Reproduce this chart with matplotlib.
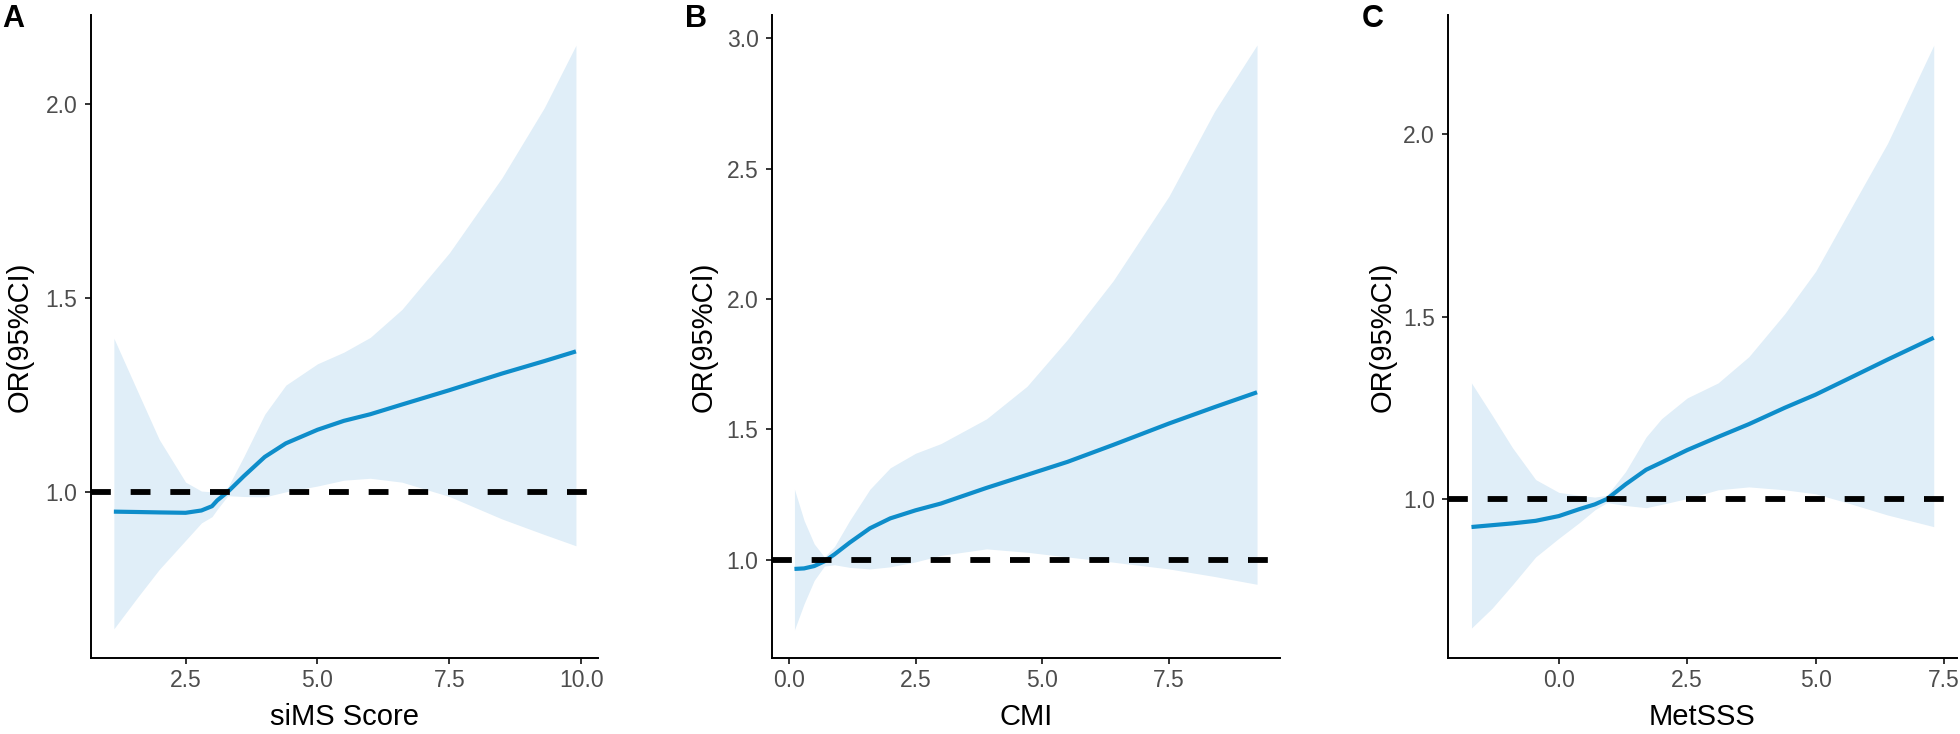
import matplotlib
matplotlib.use("Agg")
import matplotlib.pyplot as plt

plt.rcParams['font.family'] = ['Liberation Sans', 'DejaVu Sans']

# panel A - siMS Score
a_x = [1.14, 1.6, 2.0, 2.5, 2.8, 3.0, 3.1, 3.3, 3.6, 4.0, 4.4, 5.0, 5.5, 6.0, 6.6, 7.5, 8.5, 9.3, 9.9]
a_est = [0.949, 0.948, 0.947, 0.946, 0.952, 0.963, 0.978, 1.0, 1.04, 1.09, 1.125, 1.16, 1.183, 1.20, 1.225, 1.262, 1.305, 1.337, 1.362]
a_lo = [0.647, 0.73, 0.80, 0.875, 0.92, 0.936, 0.955, 0.99, 0.988, 0.987, 1.0, 1.015, 1.03, 1.035, 1.025, 0.988, 0.93, 0.89, 0.861]
a_hi = [1.396, 1.256, 1.135, 1.025, 1.002, 1.0, 1.0, 1.012, 1.09, 1.20, 1.275, 1.33, 1.36, 1.398, 1.47, 1.616, 1.81, 1.99, 2.151]

# panel B - CMI
b_x = [0.11, 0.3, 0.5, 0.7, 0.9, 1.2, 1.6, 2.0, 2.5, 3.0, 3.9, 4.7, 5.5, 6.4, 7.5, 8.4, 9.24]
b_est = [0.964, 0.966, 0.975, 0.993, 1.02, 1.065, 1.12, 1.158, 1.189, 1.215, 1.275, 1.325, 1.375, 1.44, 1.522, 1.585, 1.642]
b_lo = [0.73, 0.83, 0.92, 0.975, 0.98, 0.97, 0.964, 0.972, 0.991, 1.016, 1.041, 1.028, 1.01, 0.99, 0.964, 0.935, 0.905]
b_hi = [1.27, 1.15, 1.06, 1.01, 1.05, 1.15, 1.27, 1.352, 1.408, 1.445, 1.54, 1.665, 1.845, 2.07, 2.394, 2.72, 2.975]

# panel C - MetSSS
c_x = [-1.70, -1.3, -0.9, -0.45, 0.0, 0.4, 0.7, 0.94, 1.3, 1.7, 2.0, 2.5, 3.1, 3.7, 4.4, 5.0, 5.6, 6.4, 7.30]
c_est = [0.923, 0.928, 0.933, 0.94, 0.953, 0.972, 0.985, 1.0, 1.04, 1.08, 1.10, 1.134, 1.17, 1.205, 1.25, 1.286, 1.327, 1.382, 1.442]
c_lo = [0.646, 0.70, 0.765, 0.841, 0.892, 0.935, 0.97, 0.99, 0.982, 0.976, 0.985, 1.001, 1.025, 1.033, 1.025, 1.014, 0.99, 0.956, 0.924]
c_hi = [1.318, 1.23, 1.14, 1.053, 1.018, 1.01, 1.005, 1.01, 1.075, 1.17, 1.22, 1.277, 1.318, 1.39, 1.508, 1.624, 1.775, 1.975, 2.244]

panels = [
    ['A', 'siMS Score', a_x, a_est, a_lo, a_hi, (0.697, 10.318), (0.571, 2.229), [2.5, 5.0, 7.5, 10.0], [1.0, 1.5, 2.0]],
    ['B', 'CMI', b_x, b_est, b_lo, b_hi, (-0.343, 9.693), (0.621, 3.09), [0.0, 2.5, 5.0, 7.5], [1.0, 1.5, 2.0, 2.5, 3.0]],
    ['C', 'MetSSS', c_x, c_est, c_lo, c_hi, (-2.163, 7.753), (0.563, 2.327), [0.0, 2.5, 5.0, 7.5], [1.0, 1.5, 2.0]],
]

W, H = 1960, 734
# pixel layout: spine left, spine right, panel letter x, ylabel offset
boxes = [(90.5, 598, 2, -57), (771.5, 1280, 685, -54), (1447.7, 1957, 1362, -51)]
top, bottom = 15, 658.3

line_col = '#0E8DCA'
band_col = '#E0EEF8'

fig = plt.figure(figsize=(W / 100, H / 100), dpi=100)

for p, (l, r, lx, yoff) in zip(panels, boxes):
    letter, xlabel, x, est, lo, hi, xlim, ylim, xt, yt = p
    ax = fig.add_axes([l / W, (H - bottom) / H, (r - l) / W, (bottom - top) / H])
    ax.fill_between(x, lo, hi, color=band_col, linewidth=0)
    ax.plot(x, est, color=line_col, linewidth=3.0, solid_capstyle='butt')
    ax.axhline(1.0, color='black', linewidth=4.2, dashes=(3.4, 3.4))
    ax.set_xlim(*xlim)
    ax.set_ylim(*ylim)
    ax.set_xticks(xt)
    ax.set_yticks(yt)
    ax.set_xticklabels(['%.1f' % v for v in xt])
    ax.set_yticklabels(['%.1f' % v for v in yt])
    for s in ['top', 'right']:
        ax.spines[s].set_visible(False)
    for s in ['left', 'bottom']:
        ax.spines[s].set_linewidth(1.4)
    ax.tick_params(axis='both', length=4.3, width=1.4, color='#333333',
                   labelsize=16.5, labelcolor='#4D4D4D')
    ax.tick_params(axis='x', pad=3.5)
    ax.tick_params(axis='y', pad=5)
    ax.set_xlabel(xlabel, fontsize=21)
    ax.set_ylabel('OR(95%CI)', fontsize=21)
    aw = r - l
    ah = bottom - top
    ax.xaxis.set_label_coords(0.5, -(703 - bottom) / ah)
    ax.yaxis.set_label_coords(yoff / aw, 0.5)
    fig.text(lx / W, 1 - 4 / H, letter, fontsize=22, fontweight='bold',
             ha='left', va='top')

fig.savefig('out.png', dpi=100)
